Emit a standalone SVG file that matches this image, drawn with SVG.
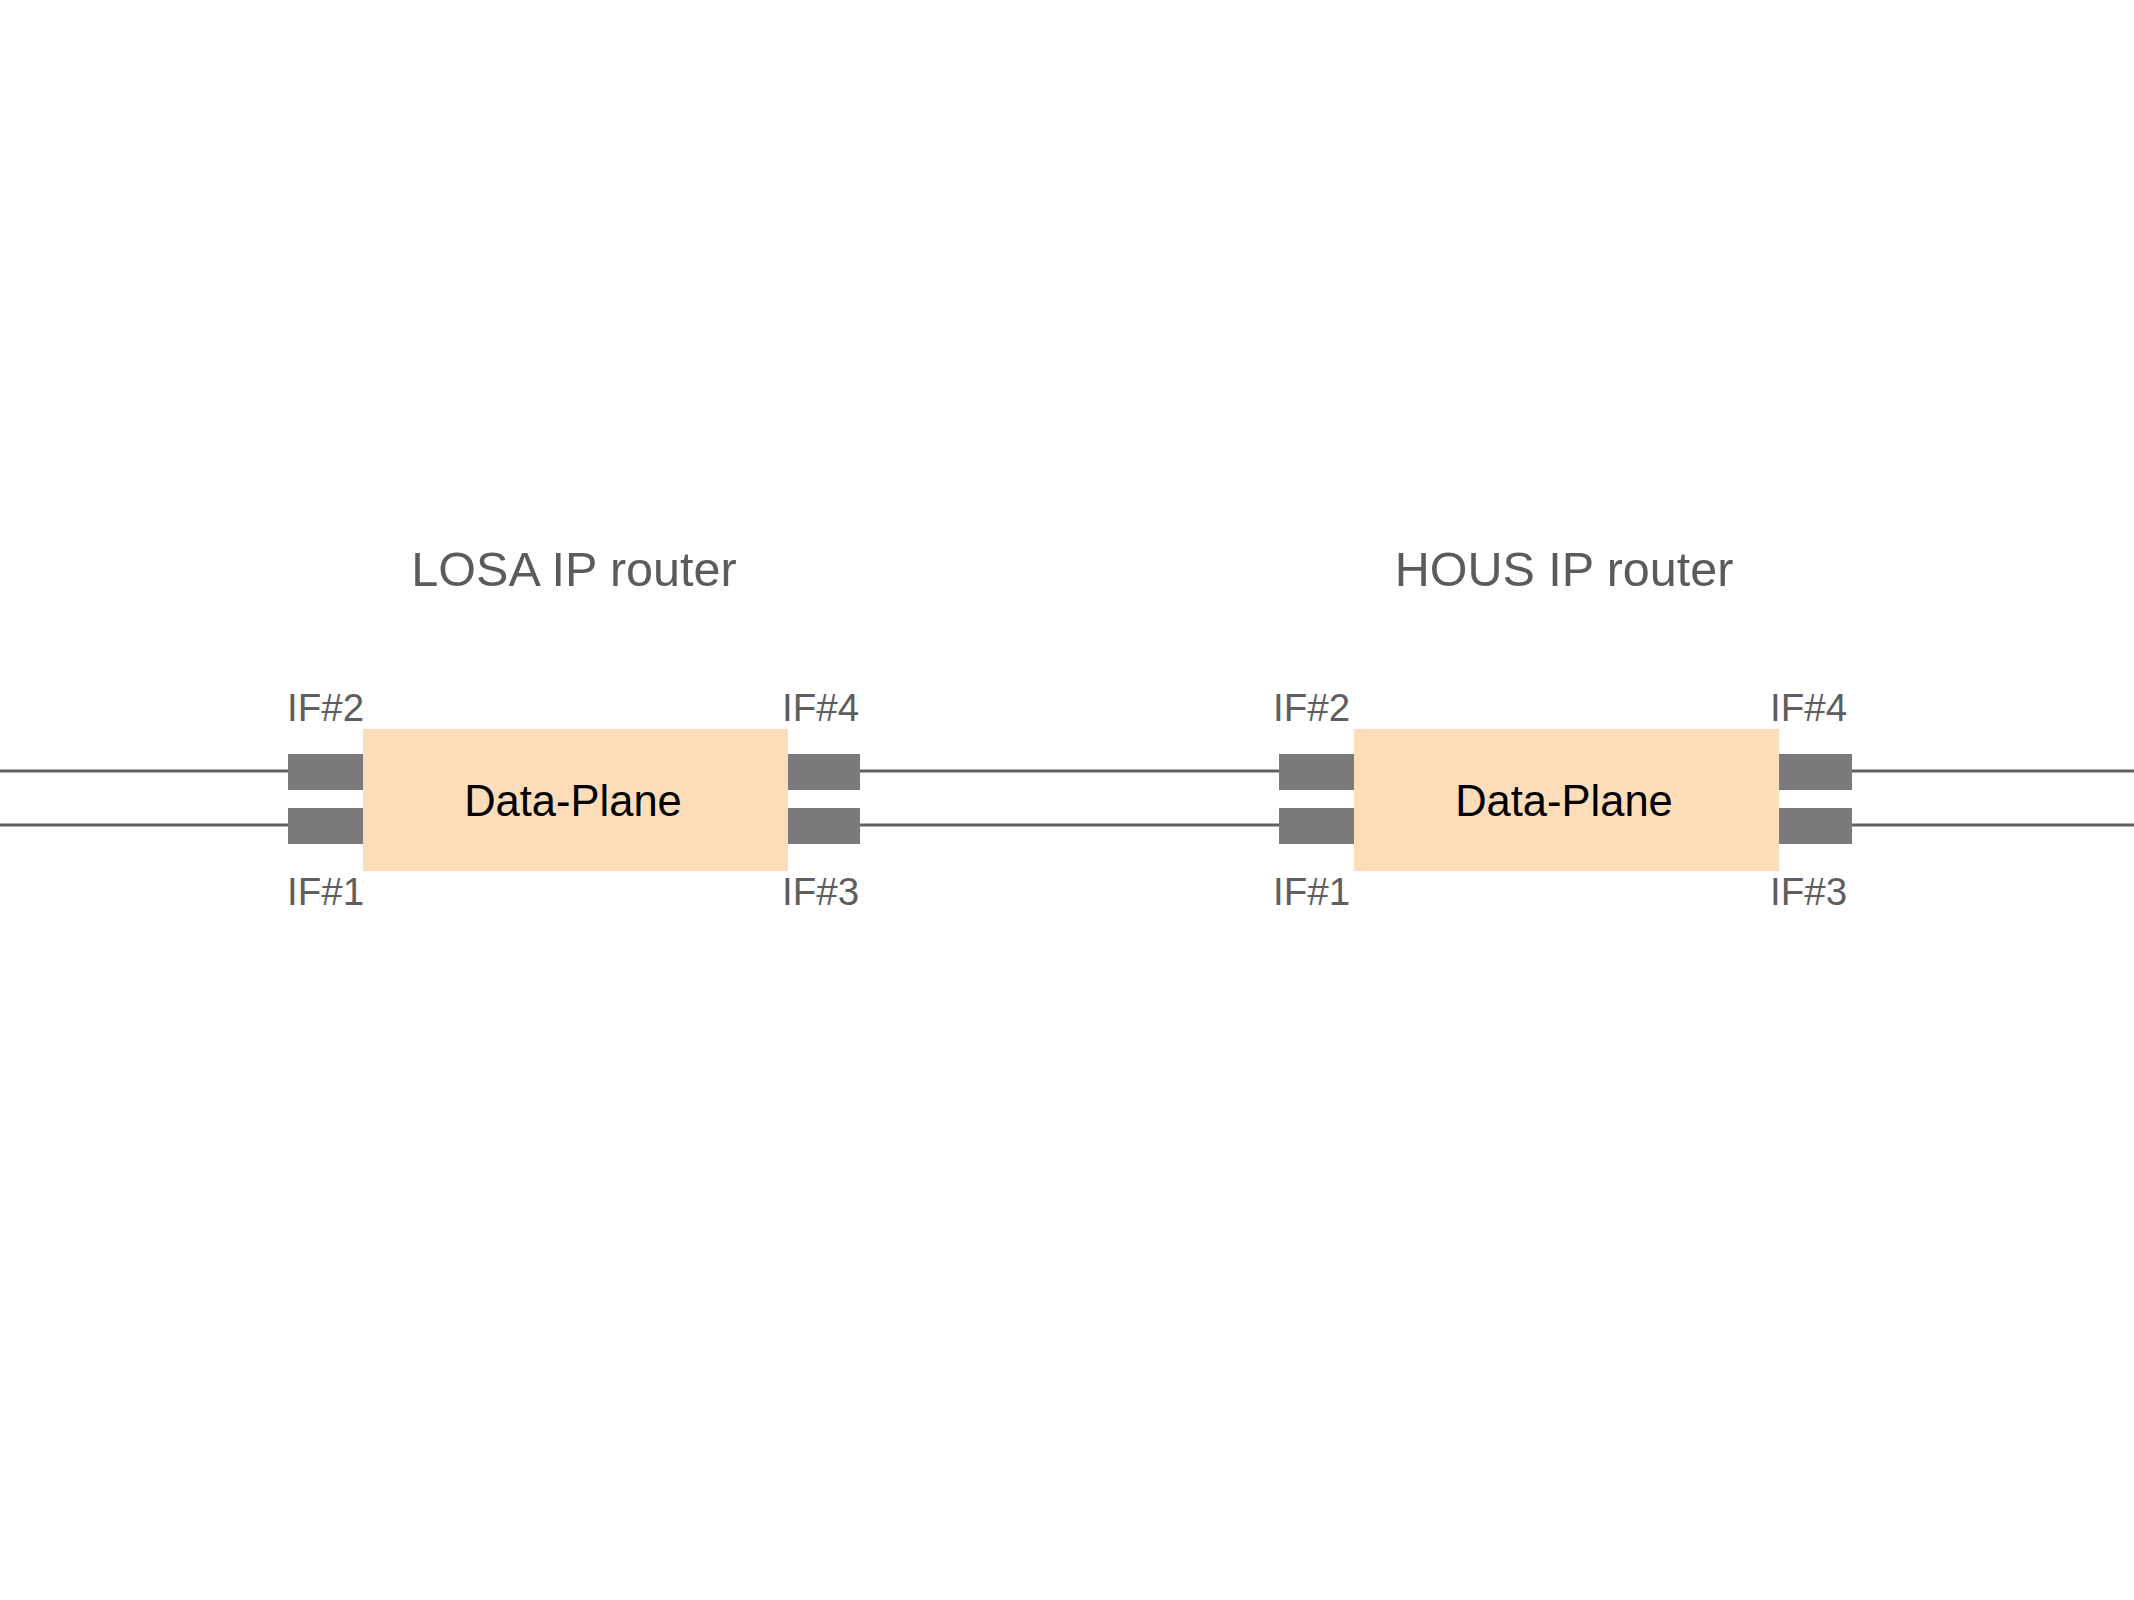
<svg xmlns="http://www.w3.org/2000/svg" width="2134" height="1600" viewBox="0 0 2134 1600">
<style>
.bg{fill:#ffffff}
.plane{fill:#fddcba}
.port{fill:#7a7a7a}
.link{stroke:#606060;stroke-width:3;fill:none}
.title{font-family:"Liberation Sans",Arial,sans-serif;font-size:48.5px;fill:#5b5b5b;text-anchor:middle}
.dp{font-family:"Liberation Sans",Arial,sans-serif;font-size:43.5px;fill:#000000;text-anchor:middle}
.ifl{font-family:"Liberation Sans",Arial,sans-serif;font-size:38.5px;fill:#5e5e5e}
</style>
<rect class="bg" x="0" y="0" width="2134" height="1600"/>
<g id="connectors">
<line class="link" x1="0" y1="771" x2="289" y2="771"/>
<line class="link" x1="0" y1="825" x2="289" y2="825"/>
<line class="link" x1="859" y1="771" x2="1280" y2="771"/>
<line class="link" x1="859" y1="825" x2="1280" y2="825"/>
<line class="link" x1="1851" y1="771" x2="2134" y2="771"/>
<line class="link" x1="1851" y1="825" x2="2134" y2="825"/>
</g>
<g id="losa-router">
<text class="title" x="574" y="586">LOSA IP router</text>
<rect class="plane" x="363" y="729" width="425" height="142"/>
<text class="dp" x="573" y="816">Data-Plane</text>
<rect class="port" x="288" y="754" width="75" height="36"/>
<rect class="port" x="288" y="808" width="75" height="36"/>
<rect class="port" x="788" y="754" width="72" height="36"/>
<rect class="port" x="788" y="808" width="72" height="36"/>
<text class="ifl" x="287" y="721">IF#2</text>
<text class="ifl" x="287" y="905">IF#1</text>
<text class="ifl" x="782" y="721">IF#4</text>
<text class="ifl" x="782" y="905">IF#3</text>
</g>
<g id="hous-router">
<text class="title" x="1564" y="586">HOUS IP router</text>
<rect class="plane" x="1354" y="729" width="425" height="142"/>
<text class="dp" x="1564" y="816">Data-Plane</text>
<rect class="port" x="1279" y="754" width="75" height="36"/>
<rect class="port" x="1279" y="808" width="75" height="36"/>
<rect class="port" x="1779" y="754" width="73" height="36"/>
<rect class="port" x="1779" y="808" width="73" height="36"/>
<text class="ifl" x="1273" y="721">IF#2</text>
<text class="ifl" x="1273" y="905">IF#1</text>
<text class="ifl" x="1770" y="721">IF#4</text>
<text class="ifl" x="1770" y="905">IF#3</text>
</g>
</svg>
